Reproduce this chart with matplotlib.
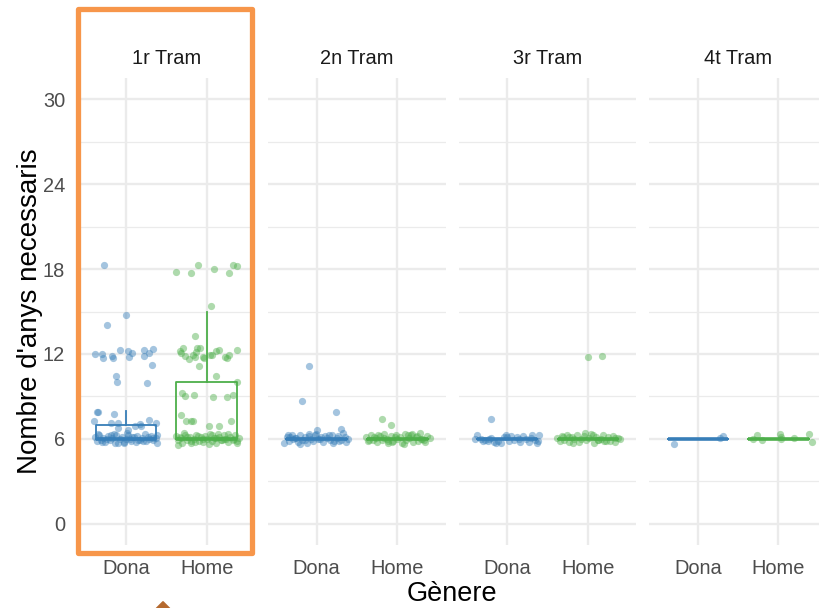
import numpy as np
import matplotlib.pyplot as plt
from matplotlib.patches import Rectangle, Polygon

plt.rcParams['font.family'] = ['Liberation Sans', 'DejaVu Sans']

# Facets and categories
trams = ['1r Tram', '2n Tram', '3r Tram', '4t Tram']
generes = ['Dona', 'Home']

# Jittered points: x offset from the category, y value
dona1_x = [-0.27, 0.0, -0.23, -0.39, -0.30, -0.28, -0.17, -0.16, -0.07, 0.02, 0.04, 0.07, 0.22, 0.22, 0.28, 0.34,
           0.32, -0.12, -0.11, 0.26, -0.36, -0.35, -0.40, -0.15, -0.18, -0.10, 0.17, 0.18, 0.28, 0.37, -0.10, 0.02, 0.11,
           -0.39, -0.36, -0.33, -0.31, -0.28, -0.26, -0.22, -0.2, -0.17, -0.14, -0.12, -0.08, -0.05, -0.03, 0.0, 0.03,
           0.06, 0.08, 0.12, 0.14, 0.17, 0.2, 0.23, 0.25, 0.29, 0.31, 0.34, 0.37, 0.39, -0.35, -0.24, -0.1, 0.01, 0.1,
           0.21, 0.33, -0.3, -0.18, 0.05, 0.27, 0.38, -0.02, -0.15, 0.15]
dona1_y = [18.3, 14.74, 14.06, 11.99, 11.99, 11.68, 11.83, 11.73, 12.25, 12.2, 11.78, 12.04, 12.25, 11.83, 12.06, 12.34,
           11.19, 10.42, 9.99, 9.97, 7.87, 7.87, 7.29, 7.73, 7.12, 7.12, 7.03, 6.89, 7.33, 7.12, 6.75, 6.6, 6.89,
           6.12, 5.85, 6.3, 5.95, 6.05, 5.78, 6.2, 5.9, 6.08, 5.72, 6.25, 5.98, 6.15, 5.8, 6.02, 6.28, 5.88, 6.1, 5.75,
           6.18, 5.93, 6.05, 6.32, 5.83, 6.0, 6.22, 5.9, 6.08, 5.7, 6.35, 6.0, 5.68, 6.4, 6.12, 5.86, 6.03, 5.76, 6.26,
           5.96, 6.14, 6.27, 5.74, 6.33, 5.92]

home1_x = [-0.38, -0.20, -0.11, 0.09, 0.28, 0.32, 0.38, 0.05, -0.14, -0.33, -0.29, -0.32, -0.27, -0.22, -0.17, -0.13,
           -0.12, -0.08, -0.09, -0.04, -0.03, 0.04, 0.07, 0.12, 0.15, 0.23, 0.25, 0.28, 0.38, -0.14, 0.12, 0.37, -0.31,
           -0.27, -0.16, 0.08, 0.25, 0.33, -0.32, -0.26, -0.19, -0.17, 0.03, 0.15, 0.30,
           -0.38, -0.35, -0.32, -0.3, -0.27, -0.24, -0.21, -0.19, -0.16, -0.13, -0.1, -0.07, -0.04, -0.02, 0.01, 0.04,
           0.07, 0.09, 0.12, 0.15, 0.18, 0.21, 0.24, 0.26, 0.29, 0.32, 0.35, 0.38, 0.4, -0.36, -0.28, -0.2, -0.11, -0.05,
           0.03, 0.11, 0.19, 0.27, 0.34, -0.33, -0.15, 0.06, 0.22, 0.37, -0.25, 0.14]
home1_y = [17.82, 17.72, 18.27, 18.0, 17.72, 18.27, 18.22, 15.4, 13.26, 12.22, 12.39, 12.06, 11.87, 11.64, 11.92, 12.11,
           12.43, 12.39, 11.12, 11.78, 11.68, 11.92, 11.92, 12.22, 12.25, 11.78, 11.68, 11.92, 12.25, 11.78, 10.42, 9.99,
           9.21, 9.05, 9.12, 8.98, 8.93, 9.12, 7.71, 7.29, 7.24, 7.24, 6.93, 6.89, 7.29,
           6.22, 5.9, 6.05, 5.7, 6.3, 5.95, 6.12, 5.82, 6.02, 6.26, 5.88, 6.1, 5.76, 6.2, 5.98, 6.33, 5.86, 6.07, 5.72,
           6.16, 5.94, 6.28, 6.0, 5.8, 6.14, 5.92, 6.24, 5.84, 6.06, 5.6, 6.38, 5.74, 6.18, 5.96, 5.66, 6.09, 5.89, 6.35,
           6.01, 6.13, 5.78, 6.27, 5.97, 5.69, 6.11, 6.31]

dona2_x = [-0.09, -0.18, 0.24, 0.30, -0.36, 0.0,
           -0.4, -0.37, -0.34, -0.31, -0.29, -0.26, -0.23, -0.2, -0.18, -0.15, -0.12, -0.09, -0.07, -0.04, -0.01, 0.02,
           0.05, 0.08, 0.1, 0.13, 0.16, 0.19, 0.22, 0.25, 0.27, 0.3, 0.33, 0.36, 0.39, -0.33, -0.21, -0.1, 0.04, 0.15,
           0.28, -0.27, -0.02, 0.2, 0.35, -0.14]
dona2_y = [11.17, 8.67, 7.92, 6.68, 6.28, 6.65,
           5.7, 6.1, 5.88, 6.25, 5.96, 6.05, 5.8, 6.3, 5.92, 6.14, 5.74, 6.2, 6.02, 5.86, 6.35, 5.97, 6.12, 5.78, 6.22,
           6.04, 5.9, 6.28, 5.83, 6.08, 6.18, 5.94, 6.4, 5.76, 6.0, 6.16, 5.66, 6.33, 5.99, 6.24, 5.84, 6.06, 6.27, 5.72,
           6.13, 5.95]

home2_x = [-0.19, -0.08,
           -0.39, -0.36, -0.33, -0.3, -0.27, -0.25, -0.22, -0.19, -0.16, -0.13, -0.11, -0.08, -0.05, -0.02, 0.0, 0.03,
           0.06, 0.09, 0.11, 0.14, 0.17, 0.2, 0.23, 0.26, 0.28, 0.31, 0.34, 0.37, 0.4, -0.35, -0.24, -0.12, -0.03, 0.08,
           0.18, 0.29, -0.29, -0.06, 0.13, 0.33, -0.17, 0.24]
home2_y = [7.40, 6.96,
           6.15, 5.82, 6.3, 5.95, 6.08, 5.75, 6.22, 5.9, 6.36, 6.02, 5.68, 6.18, 5.86, 6.26, 5.98, 6.1, 5.72, 6.32, 5.92,
           6.05, 6.24, 5.8, 6.12, 5.88, 6.38, 6.0, 5.78, 6.2, 6.06, 5.94, 6.28, 5.84, 6.14, 5.65, 6.34, 5.97, 6.1, 5.76,
           6.25, 5.9, 6.03, 6.19]

dona3_x = [-0.2,
           -0.38, -0.4, -0.33, -0.28, -0.24, -0.2, -0.16, -0.12, -0.08, -0.04, -0.01, 0.02, 0.05, 0.09, 0.12, 0.16, 0.2,
           0.23, 0.27, 0.31, 0.34, 0.37, 0.39, -0.3, -0.14, 0.0, 0.14, 0.3, 0.38, -0.22]
dona3_y = [7.38,
           6.3, 5.99, 6.02, 5.95, 5.85, 6.05, 5.78, 5.88, 5.7, 6.1, 6.3, 5.82, 6.22, 5.9, 6.15, 5.75, 6.18, 6.02, 5.8,
           6.26, 5.92, 5.71, 6.28, 5.86, 5.74, 6.12, 5.96, 6.08, 5.84, 6.0]

home3_x = [0.0, 0.17,
           -0.38, -0.35, -0.32, -0.29, -0.26, -0.23, -0.2, -0.17, -0.14, -0.11, -0.08, -0.05, -0.02, 0.01, 0.04, 0.07,
           0.1, 0.13, 0.16, 0.19, 0.22, 0.25, 0.28, 0.31, 0.34, 0.37, 0.4, -0.31, -0.18, -0.03, 0.06, 0.2, 0.33, -0.24,
           0.12]
home3_y = [11.82, 11.87,
           6.05, 5.85, 6.22, 5.92, 6.3, 5.76, 6.12, 5.98, 6.26, 5.8, 6.02, 6.18, 5.9, 6.08, 6.34, 5.72, 6.15, 5.95, 6.0,
           6.28, 5.84, 6.1, 5.88, 6.2, 5.78, 6.04, 5.96, 6.14, 5.7, 6.38, 6.24, 5.82, 6.07, 6.16, 5.93]

dona4_x = [-0.30, 0.27, 0.31]
dona4_y = [5.66, 6.04, 6.23]
home4_x = [-0.32, -0.27, -0.20, 0.02, 0.03, 0.03, 0.19, 0.38, 0.41]
home4_y = [5.97, 6.30, 5.90, 6.37, 6.16, 5.97, 6.04, 6.37, 5.76]

# Box statistics (whislo, q1, med, q3, whishi), per tram
box_dona = [[6, 6, 6, 7, 8], [6, 6, 6, 6, 6], [6, 6, 6, 6, 6], [6, 6, 6, 6, 6]]
box_home = [[6, 6, 6, 10, 15], [6, 6, 6, 6, 6], [6, 6, 6, 6, 6], [6, 6, 6, 6, 6]]

points_x = [(dona1_x, home1_x), (dona2_x, home2_x), (dona3_x, home3_x), (dona4_x, home4_x)]
points_y = [(dona1_y, home1_y), (dona2_y, home2_y), (dona3_y, home3_y), (dona4_y, home4_y)]

colors = ['#377EB8', '#4DAF4A']
grid_col = '#EBEBEB'

W, H = 819, 608
fig = plt.figure(figsize=(W / 100, H / 100), dpi=100)

panel_left, panel_w, panel_step = 77.6, 177.5, 190.6
panel_top, panel_bottom = 78, 545

for i, tram in enumerate(trams):
    ax = fig.add_axes([(panel_left + i * panel_step) / W, 1 - panel_bottom / H,
                       panel_w / W, (panel_bottom - panel_top) / H])

    for j in range(2):
        st = (box_dona if j == 0 else box_home)[i]
        stats = [dict(whislo=st[0], q1=st[1], med=st[2], q3=st[3], whishi=st[4])]
        ax.bxp(stats, positions=[j + 1], widths=0.75, showfliers=False, showcaps=False,
               manage_ticks=False,
               boxprops=dict(color=colors[j], lw=1.3),
               whiskerprops=dict(color=colors[j], lw=1.3),
               medianprops=dict(color=colors[j], lw=2.6))
        xs = np.array(points_x[i][j]) + j + 1
        ax.scatter(xs, points_y[i][j], s=27, color=colors[j], alpha=0.45, linewidths=0, zorder=3)

    ax.set_xlim(0.4, 2.6)
    ax.set_ylim(-1.5, 31.5)
    ax.set_yticks(np.arange(0, 31, 6))
    ax.set_yticks(np.arange(3, 30, 6), minor=True)
    ax.set_xticks([1, 2])
    ax.set_xticklabels(generes)
    ax.grid(True, which='major', color=grid_col, lw=1.7, zorder=0)
    ax.grid(True, which='minor', axis='y', color=grid_col, lw=0.9, zorder=0)
    ax.set_axisbelow(True)
    for s in ax.spines.values():
        s.set_visible(False)
    ax.tick_params(which='both', length=0)
    ax.tick_params(axis='x', pad=10, labelsize=14.4, labelcolor='#4D4D4D')
    ax.tick_params(axis='y', pad=9, labelsize=14.4, labelcolor='#4D4D4D')
    if i > 0:
        ax.set_yticklabels([])

    ax.text(0.5, (panel_bottom - 58) / (panel_bottom - panel_top), tram, transform=ax.transAxes,
            ha='center', va='center', fontsize=14.4, color='#1A1A1A')

fig.text(30 / W, 1 - 311 / H, "Nombre d'anys necessaris", rotation=90, ha='center', va='center',
         fontsize=20, color='black')
fig.text(452 / W, 1 - 594 / H, 'Gènere', ha='center', va='center', fontsize=19.5, color='black')

# highlight around the first facet
fig.patches.append(Rectangle((77.5 / W, 1 - 553 / H), (251.5 - 77.5) / W, (553 - 9) / H,
                             transform=fig.transFigure, fill=False, edgecolor='#F7964A', lw=3.8,
                             joinstyle='round', zorder=10))
diamond = [(163, 601.7), (171, 609.7), (163, 617.7), (155, 609.7)]
fig.patches.append(Polygon([(px / W, 1 - py / H) for px, py in diamond], closed=True,
                           transform=fig.transFigure, color='#B5692E', zorder=10))

fig.savefig('out.png', dpi=100)
